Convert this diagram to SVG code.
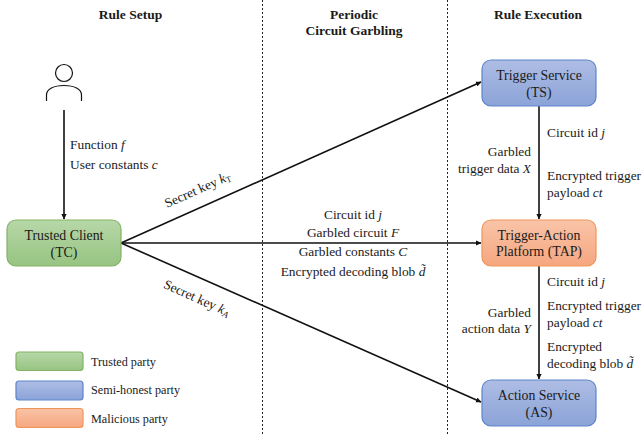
<svg xmlns="http://www.w3.org/2000/svg" width="642" height="435" viewBox="0 0 642 435">
<style>
text{font-family:"Liberation Serif","Times New Roman",serif;font-size:13.4px;fill:#1a1a1a}
.m{text-anchor:middle}
.e{text-anchor:end}
.b{font-weight:bold;font-size:13.5px}
.i{font-style:italic}
.n{font-size:13.8px}
.l{font-size:12.2px}
.sub{font-size:9px}
.c{stroke:#111;stroke-width:1.6;fill:none;marker-end:url(#a)}
.d{stroke:#222;stroke-width:1;stroke-dasharray:2 2;fill:none}
.g{fill:url(#gg);stroke:#82b366;stroke-width:1.2}
.bl{fill:url(#gb);stroke:#5c85cc;stroke-width:1.2}
.o{fill:url(#go);stroke:#f0955a;stroke-width:1.2}
</style>
<defs>
<marker id="a" markerWidth="6" markerHeight="6" refX="5" refY="3" orient="auto" markerUnits="userSpaceOnUse"><path d="M0,0.4L5.500,3L0,5.600Z" fill="#111"/></marker>
<linearGradient id="gg" x1="0" y1="0" x2="0" y2="1"><stop offset="0" stop-color="#b7d7a8"/><stop offset="1" stop-color="#97c482"/></linearGradient>
<linearGradient id="gb" x1="0" y1="0" x2="0" y2="1"><stop offset="0" stop-color="#aebde4"/><stop offset="1" stop-color="#8ba3d8"/></linearGradient>
<linearGradient id="go" x1="0" y1="0" x2="0" y2="1"><stop offset="0" stop-color="#f9c4a8"/><stop offset="1" stop-color="#f6a67f"/></linearGradient>
</defs>
<g id="dividers">
<line class="d" x1="262.500" y1="0" x2="262.500" y2="435"/>
<line class="d" x1="447.500" y1="0" x2="447.500" y2="435"/>
</g>
<g id="headers">
<text class="b m" x="130.500" y="19">Rule Setup</text>
<text class="b m" x="354" y="19">Periodic</text>
<text class="b m" x="354" y="35">Circuit Garbling</text>
<text class="b m" x="538" y="19">Rule Execution</text>
</g>
<g id="connectors">
<line class="c" x1="64" y1="110" x2="64" y2="219"/>
<line class="c" x1="121" y1="243" x2="481" y2="82"/>
<line class="c" x1="121" y1="243" x2="481" y2="243"/>
<line class="c" x1="121" y1="243" x2="481" y2="402"/>
<line class="c" x1="539" y1="106" x2="539" y2="219"/>
<line class="c" x1="539" y1="266" x2="539" y2="379"/>
</g>
<g id="user" fill="none" stroke="#111" stroke-width="1.2">
<circle cx="64" cy="73" r="8.500"/>
<path d="M46.500,101V95C46.500,89 54,85.500 64,85.500C74,85.500 81.500,89 81.500,95V101"/>
</g>
<g id="tc"><rect class="g" x="7" y="220" width="114" height="46" rx="9"/>
<text class="m n" x="64" y="240">Trusted Client</text><text class="m n" x="64" y="257">(TC)</text></g>
<g id="ts"><rect class="bl" x="482" y="60" width="114" height="46" rx="9"/>
<text class="m n" x="539" y="80">Trigger Service</text><text class="m n" x="539" y="97">(TS)</text></g>
<g id="tap"><rect class="o" x="482" y="220" width="114" height="46" rx="9"/>
<text class="m n" x="539" y="240">Trigger-Action</text><text class="m n" x="539" y="256">Platform (TAP)</text></g>
<g id="as"><rect class="bl" x="482" y="380" width="114" height="46" rx="9"/>
<text class="m n" x="539" y="400">Action Service</text><text class="m n" x="539" y="417">(AS)</text></g>
<g id="labels">
<text x="70" y="149">Function <tspan class="i">f</tspan></text>
<text x="70" y="169">User constants <tspan class="i">c</tspan></text>
<text transform="translate(167,208) rotate(-24)">Secret key <tspan class="i">k</tspan><tspan class="sub" dy="2">T</tspan></text>
<text transform="translate(162.700,287.500) rotate(24)">Secret key <tspan class="i">k</tspan><tspan class="i sub" dy="2">A</tspan></text>
<text class="m" x="353" y="219">Circuit id <tspan class="i">j</tspan></text>
<text class="m" x="353" y="237">Garbled circuit <tspan class="i">F</tspan></text>
<text class="m" x="353" y="256">Garbled constants <tspan class="i">C</tspan></text>
<text class="m" x="353" y="276">Encrypted decoding blob <tspan class="i">d̃</tspan></text>
<text class="e" x="531" y="156">Garbled</text>
<text class="e" x="531" y="173">trigger data <tspan class="i">X</tspan></text>
<text x="547" y="137">Circuit id <tspan class="i">j</tspan></text>
<text x="547" y="180">Encrypted trigger</text>
<text x="547" y="197">payload <tspan class="i">ct</tspan></text>
<text class="e" x="531" y="317">Garbled</text>
<text class="e" x="531" y="333">action data <tspan class="i">Y</tspan></text>
<text x="547" y="286">Circuit id <tspan class="i">j</tspan></text>
<text x="547" y="310">Encrypted trigger</text>
<text x="547" y="327">payload <tspan class="i">ct</tspan></text>
<text x="547" y="351">Encrypted</text>
<text x="547" y="368">decoding blob <tspan class="i">d̃</tspan></text>
</g>
<g id="legend">
<rect class="g" x="16" y="352" width="67" height="18.500" rx="3"/>
<rect class="bl" x="16" y="381" width="67" height="19" rx="3"/>
<rect class="o" x="16" y="408.500" width="67" height="19" rx="3"/>
<text class="l" x="91" y="366">Trusted party</text>
<text class="l" x="91" y="394">Semi-honest party</text>
<text class="l" x="91" y="423">Malicious party</text>
</g>
</svg>
